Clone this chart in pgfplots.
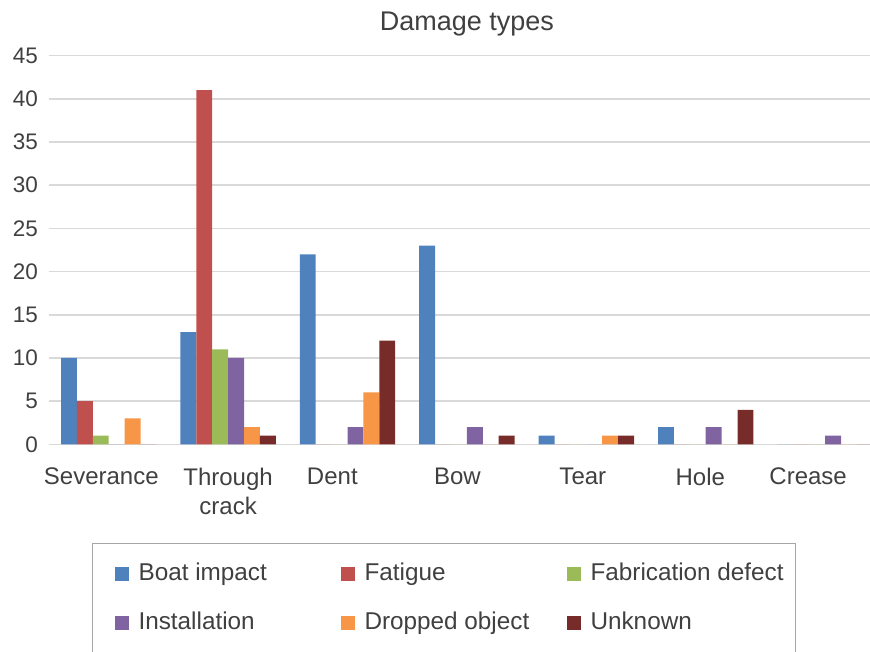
\documentclass[border=0pt]{standalone}
\usepackage{pgfplots}
\usepackage{pgfplotstable}
\pgfplotsset{compat=1.18}
\usepackage{fontspec}
\setmainfont{Liberation Sans}

\definecolor{txt}{HTML}{404040}
\definecolor{gridc}{HTML}{D9D9D9}
\definecolor{cboat}{HTML}{4F81BD}
\definecolor{cfat}{HTML}{C0504D}
\definecolor{cfab}{HTML}{9BBB59}
\definecolor{cins}{HTML}{8064A2}
\definecolor{cdrop}{HTML}{F79646}
\definecolor{cunk}{HTML}{772C2A}

% number of damaged members per damage type and cause
\pgfplotstableread{
idx boat fatigue fabrication installation dropped unknown
0   10   5       1           0            3       0
1   13   41      11          10           2       1
2   22   0       0           2            6       12
3   23   0       0           2            0       1
4   1    0       0           0            1       1
5   2    0       0           2            0       4
6   0    0       0           1            0       0
}\damagedata

\pgfplotsset{
  sqlegend/.style={legend image code/.code={\fill[##1] (0pt,-7pt) rectangle (14pt,7pt);}},
  sqlegendfirst/.style={legend image code/.code={\path (-10pt,0pt); \fill[##1] (0pt,-7pt) rectangle (14pt,7pt);}},
}

\begin{document}
\begin{tikzpicture}[x=1pt,y=1pt]
\path[use as bounding box] (0,0) rectangle (870,652);
\clip (0,0) rectangle (870,652);
\begin{axis}[
  at={(49pt,207.7pt)}, anchor=south west,
  scale only axis, width=835.8pt, height=388.6pt,
  xmin=-0.5, xmax=6.5, ymin=0, ymax=45,
  ybar=0pt, bar width=15.9pt,
  axis line style={draw=none},
  major tick length=0pt,
  ytick={0,5,...,45},
  ymajorgrids, grid style={gridc, line width=1.5pt},
  xtick={-0.062,1,1.873,2.92,3.971,4.955,5.858},
  xticklabels={Severance,{Through\\crack},Dent,Bow,Tear,Hole,Crease},
  xticklabel style={anchor=north, inner sep=0pt, yshift=-23.4pt, align=center,
    font=\fontsize{24}{29}\selectfont, text=txt},
  yticklabel style={anchor=east, inner sep=0pt, xshift=-11pt,
    font=\fontsize{22.5}{27}\selectfont, text=txt},
  /pgf/number format/assume math mode=true,
  title={Damage types},
  title style={at={(0.5,1)}, anchor=base, yshift=19.4pt, inner sep=0pt,
    font=\fontsize{27}{32}\selectfont, text=txt},
  legend columns=3,
  legend cell align=left,
  legend style={at={(0.0515,-0.2541)}, anchor=north west,
    draw=gray!70, line width=1pt, fill=white,
    inner xsep=12pt, inner ysep=19.6pt, row sep=27pt,
    /tikz/every odd column/.append style={column sep=10pt},
    /tikz/every even column/.append style={column sep=0pt},
    nodes={inner sep=0pt, text height=17pt, text depth=5pt,
      font=\fontsize{24.3}{29}\selectfont, text=txt}},
]
\addplot[fill=cboat, draw=none, sqlegendfirst] table[x=idx, y=boat] {\damagedata};
\addlegendentry{\makebox[202pt][l]{Boat impact}}
\addplot[fill=cfat, draw=none, sqlegend] table[x=idx, y=fatigue] {\damagedata};
\addlegendentry{\makebox[202pt][l]{Fatigue}}
\addplot[fill=cfab, draw=none, sqlegend] table[x=idx, y=fabrication] {\damagedata};
\addlegendentry{Fabrication defect}
\addplot[fill=cins, draw=none, sqlegendfirst] table[x=idx, y=installation] {\damagedata};
\addlegendentry{\makebox[202pt][l]{Installation}}
\addplot[fill=cdrop, draw=none, sqlegend] table[x=idx, y=dropped] {\damagedata};
\addlegendentry{\makebox[202pt][l]{Dropped object}}
\addplot[fill=cunk, draw=none, sqlegend] table[x=idx, y=unknown] {\damagedata};
\addlegendentry{Unknown}
\end{axis}
\end{tikzpicture}
\end{document}
